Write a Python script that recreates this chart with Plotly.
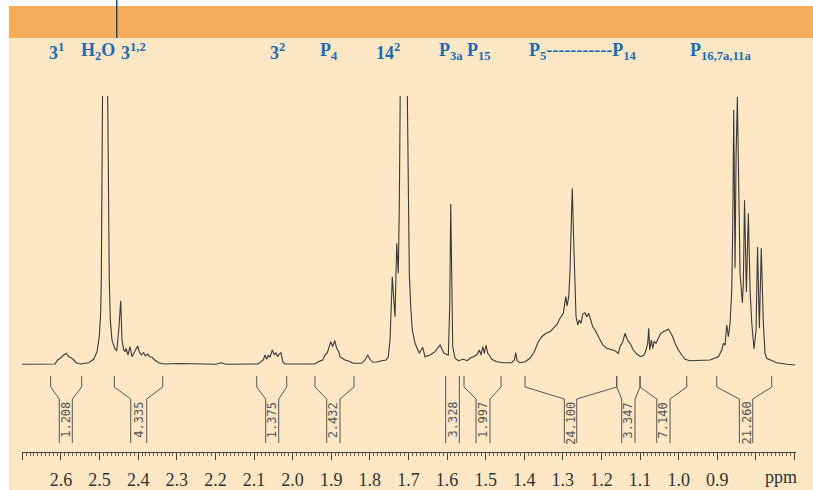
import plotly.graph_objects as go

# ---------------- data ----------------
ppm = [2.7010, 2.6544, 2.6155, 2.6085, 2.6018, 2.5930, 2.5863, 2.5801, 2.5733, 2.5671,
       2.5604, 2.5500, 2.5282, 2.5153, 2.5067, 2.5008, 2.4972, 2.4956, 2.4938, 2.4920,
       2.4896, 2.4855, 2.4813, 2.4790, 2.4769, 2.4749, 2.4723, 2.4679, 2.4609, 2.4557,
       2.4503, 2.4453, 2.4420, 2.4376, 2.4334, 2.4316, 2.4264, 2.4212, 2.4161, 2.4091,
       2.4013, 2.3972, 2.3920, 2.3858, 2.3816, 2.3754, 2.3702, 2.3642, 2.3573, 2.3469,
       2.3339, 2.2917, 2.2399, 2.1984, 2.1855, 2.1725, 2.0896, 2.0759, 2.0715, 2.0671,
       2.0630, 2.0585, 2.0526, 2.0474, 2.0430, 2.0386, 2.0345, 2.0301, 2.0256, 2.0197,
       1.9420, 1.9334, 1.9220, 1.9161, 1.9101, 1.9049, 1.9013, 1.8961, 1.8909, 1.8858,
       1.8806, 1.8772, 1.8720, 1.8642, 1.8557, 1.8427, 1.8210, 1.8124, 1.8054, 1.7995,
       1.7925, 1.7821, 1.7692, 1.7580, 1.7521, 1.7477, 1.7451, 1.7417, 1.7386, 1.7347,
       1.7303, 1.7262, 1.7236, 1.7210, 1.7179, 1.7114, 1.7049, 1.7028, 1.7003, 1.6977,
       1.6940, 1.6899, 1.6829, 1.6718, 1.6630, 1.6570, 1.6440, 1.6311, 1.6181, 1.6078,
       1.5966, 1.5930, 1.5904, 1.5878, 1.5852, 1.5793, 1.5707, 1.5578, 1.5474, 1.5404,
       1.5319, 1.5231, 1.5163, 1.5119, 1.5075, 1.5034, 1.4990, 1.4946, 1.4904, 1.4842,
       1.4712, 1.4541, 1.4324, 1.4256, 1.4220, 1.4187, 1.4109, 1.3979, 1.3850, 1.3738,
       1.3635, 1.3547, 1.3435, 1.3332, 1.3246, 1.3158, 1.3073, 1.2987, 1.2925, 1.2891,
       1.2847, 1.2813, 1.2780, 1.2754, 1.2728, 1.2692, 1.2658, 1.2614, 1.2573, 1.2528,
       1.2484, 1.2425, 1.2381, 1.2329, 1.2277, 1.2225, 1.2166, 1.2106, 1.2036, 1.1966,
       1.1863, 1.1733, 1.1648, 1.1562, 1.1518, 1.1448, 1.1389, 1.1329, 1.1259, 1.1174,
       1.1085, 1.0982, 1.0896, 1.0845, 1.0801, 1.0775, 1.0749, 1.0707, 1.0671, 1.0637,
       1.0585, 1.0526, 1.0464, 1.0396, 1.0326, 1.0267, 1.0223, 1.0153, 1.0093, 1.0008,
       0.9920, 0.9834, 0.9705, 0.9446, 0.9187, 0.8971, 0.8883, 0.8842, 0.8798, 0.8754,
       0.8712, 0.8668, 0.8624, 0.8598, 0.8573, 0.8539, 0.8513, 0.8479, 0.8443, 0.8409,
       0.8350, 0.8324, 0.8293, 0.8246, 0.8194, 0.8150, 0.8106, 0.8047, 0.7995, 0.7956,
       0.7909, 0.7860, 0.7806, 0.7762, 0.7718, 0.7632, 0.7459, 0.7199, 0.6984]

intensity = [0.7, 0.8, 1.0, 5.0, 6.7, 10.0, 11.7, 8.3, 7.3, 5.0,
             2.3, 1.0, 2.3, 5.7, 13.3, 28.3, 52.0, 85.0, 165.0, 269.0,
             430.0, 340.0, 430.0, 269.0, 165.0, 85.0, 45.0, 25.0, 16.7, 14.0,
             35.0, 64.3, 25.0, 15.0, 13.3, 16.7, 10.0, 18.3, 8.3, 13.3,
             19.0, 13.3, 10.0, 12.3, 9.0, 11.0, 8.3, 7.7, 5.0, 2.3,
             1.0, 1.5, 0.7, 0.8, 2.3, 0.8, 1.0, 5.0, 10.0, 5.7,
             10.0, 7.7, 15.0, 10.0, 12.3, 8.3, 11.0, 12.3, 3.3, 1.0,
             1.0, 3.3, 5.0, 10.0, 12.3, 18.3, 23.3, 18.3, 24.3, 16.7,
             13.3, 8.3, 6.7, 5.0, 4.0, 1.7, 1.7, 5.0, 10.0, 5.7,
             2.7, 3.0, 4.3, 5.0, 8.3, 25.0, 52.0, 88.3, 70.0, 48.3,
             121.7, 91.7, 160.0, 269.0, 430.0, 350.0, 430.0, 269.0, 150.0, 91.7,
             58.3, 35.0, 21.7, 11.7, 17.7, 8.3, 10.0, 13.3, 20.0, 11.7,
             10.0, 60.0, 161.0, 60.0, 18.3, 6.7, 4.3, 5.7, 4.3, 6.7,
             8.3, 10.0, 15.0, 10.0, 18.3, 11.7, 20.0, 11.7, 10.0, 5.7,
             3.3, 2.3, 2.3, 5.0, 12.3, 4.3, 2.3, 3.3, 6.7, 13.3,
             23.3, 28.3, 31.7, 33.3, 36.7, 40.0, 46.7, 51.7, 68.3, 59.0,
             68.3, 95.0, 145.0, 176.7, 135.0, 78.3, 48.3, 40.0, 45.0, 41.7,
             51.0, 52.3, 48.3, 51.7, 45.0, 38.3, 35.0, 30.0, 25.0, 20.0,
             16.7, 15.0, 14.3, 11.7, 18.3, 23.3, 31.7, 25.0, 21.7, 15.0,
             11.0, 8.3, 10.0, 15.0, 21.7, 36.7, 15.0, 25.0, 16.7, 23.3,
             21.7, 26.7, 31.7, 33.3, 34.3, 35.7, 33.3, 28.3, 21.7, 15.0,
             10.0, 5.7, 4.3, 5.0, 5.0, 8.3, 15.0, 21.7, 20.0, 40.0,
             28.3, 41.7, 75.0, 141.7, 255.0, 96.7, 208.0, 268.0, 175.0, 91.7,
             62.0, 81.7, 164.7, 73.0, 151.7, 75.0, 41.7, 16.0, 35.0, 118.0,
             36.7, 116.7, 41.7, 11.7, 6.7, 5.0, 2.3, 0.7, 0.0]

tick_values = [2.7, 2.6, 2.5, 2.4, 2.3, 2.2, 2.1, 2.0, 1.9, 1.8, 1.7, 1.6, 1.5,
               1.4, 1.3, 1.2, 1.1, 1.0, 0.9, 0.8, 0.7]
tick_labels = ["", "2.6", "2.5", "2.4", "2.3", "2.2", "2.1", "2.0", "1.9", "1.8", "1.7",
               "1.6", "1.5", "1.4", "1.3", "1.2", "1.1", "1.0", "0.9", "", ""]

integral_values = ["1.208", "4.335", "1.375", "2.432", "3.328", "1.997",
                   "24.100", "3.347", "7.140", "21.260"]
integral_outer_left = [2.6267, 2.4619, 2.0930, 1.9420, 1.6034, 1.5560, 1.3979, 1.1604, 1.1000, 0.9013]
integral_outer_right = [2.5464, 2.3365, 2.0153, 1.8409, 1.5681, 1.4601, 1.1604, 1.1000, 0.9790, 0.7588]
integral_inner_left = [2.6044, 2.4194, 2.0697, 1.9117, 1.6034, 1.5249, 1.2961, 1.1474, 1.0567, 0.8427]
integral_inner_right = [2.5707, 2.3780, 2.0360, 1.8772, 1.5681, 1.4886, 1.2640, 1.1130, 1.0223, 0.8080]

peak_labels = ["3<sup>1</sup>", "H<sub>2</sub>O", "3<sup>1,2</sup>", "3<sup>2</sup>",
               "P<sub>4</sub>", "14<sup>2</sup>", "P<sub>3a</sub>", "P<sub>15</sub>",
               "P<sub>5</sub>-----------P<sub>14</sub>", "P<sub>16,7a,11a</sub>"]
peak_label_ppm = [2.612, 2.505, 2.413, 2.040, 1.9065, 1.754, 1.591, 1.518, 1.247, 0.891]

# ---------------- styling ----------------
ORANGE = "#F6AD5B"
BEIGE = "#FDE7C4"
BLUE = "#1C6CB3"
LINE = "#3a3a3a"
INT_COLOR = "#555555"

BR_TOP, BR_KNEE, BR_INNER, BR_BOTTOM = -11, -22, -34, -78

fig = go.Figure()

# spectrum
fig.add_trace(go.Scatter(x=ppm, y=intensity, mode="lines",
                         line=dict(color=LINE, width=1.1), hoverinfo="skip",
                         showlegend=False))

# integral brackets
bx, by = [], []
for ol, orr, il, ir in zip(integral_outer_left, integral_outer_right,
                           integral_inner_left, integral_inner_right):
    bx += [ol, ol, il, il, None, orr, orr, ir, ir, None]
    by += [BR_TOP, BR_KNEE, BR_INNER, BR_BOTTOM, None,
           BR_TOP, BR_KNEE, BR_INNER, BR_BOTTOM, None]
fig.add_trace(go.Scatter(x=bx, y=by, mode="lines",
                         line=dict(color=INT_COLOR, width=1), hoverinfo="skip",
                         showlegend=False))

annotations = []
for val, il, ir in zip(integral_values, integral_inner_left, integral_inner_right):
    annotations.append(dict(x=(il + ir) / 2, y=BR_INNER - 1, xref="x", yref="y",
                            text=val, showarrow=False, textangle=-90,
                            xanchor="center", yanchor="top",
                            font=dict(family="DejaVu Sans Mono", size=12, color=INT_COLOR)))

for lab, p in zip(peak_labels, peak_label_ppm):
    annotations.append(dict(x=p, y=1.124, xref="x", yref="paper",
                            text="<b>" + lab + "</b>", showarrow=False,
                            xanchor="center", yanchor="middle",
                            font=dict(family="Liberation Serif", size=18, color=BLUE)))

annotations.append(dict(x=0.735, y=-0.07, xref="x", yref="paper", text="ppm",
                        showarrow=False, xanchor="center", yanchor="middle",
                        font=dict(family="Liberation Serif", size=18, color="#333333")))

shapes = [
    dict(type="rect", xref="paper", yref="paper", x0=-0.0168, x1=1.03, y0=-0.13, y1=1.1629,
         fillcolor=BEIGE, line=dict(width=0), layer="below"),
    dict(type="rect", xref="paper", yref="paper", x0=-0.0168, x1=1.03, y0=1.1629, y1=1.2528,
         fillcolor=ORANGE, line=dict(width=0), layer="below"),
    dict(type="line", xref="paper", yref="paper", x0=0.1224, x1=0.1224, y0=1.1629, y1=1.3,
         line=dict(color="#23466e", width=1.5)),
]

fig.update_layout(
    width=813, height=490,
    margin=dict(l=22, r=17, t=96, b=38, autoexpand=False),
    paper_bgcolor="white", plot_bgcolor=BEIGE,
    shapes=shapes, annotations=annotations,
    showlegend=False,
    xaxis=dict(range=[2.701, 0.696], showgrid=False, zeroline=False, automargin=False,
               showline=True, linecolor="#444444", linewidth=1,
               tickmode="array", tickvals=tick_values, ticktext=tick_labels,
               ticks="outside", ticklen=7, tickcolor="#444444", tickwidth=1,
               ticklabelstandoff=4,
               tickfont=dict(family="Liberation Serif", size=18, color="#333333"),
               minor=dict(tickmode="linear", tick0=0, dtick=0.01, ticks="outside",
                          ticklen=3, tickcolor="#666666", tickwidth=1)),
    yaxis=dict(range=[-87, 269], visible=False, showgrid=False, zeroline=False,
               automargin=False),
)

fig.write_html("out.html", config={"displayModeBar": False},
               post_script="document.body.style.margin='0';document.body.style.overflow='hidden';")
